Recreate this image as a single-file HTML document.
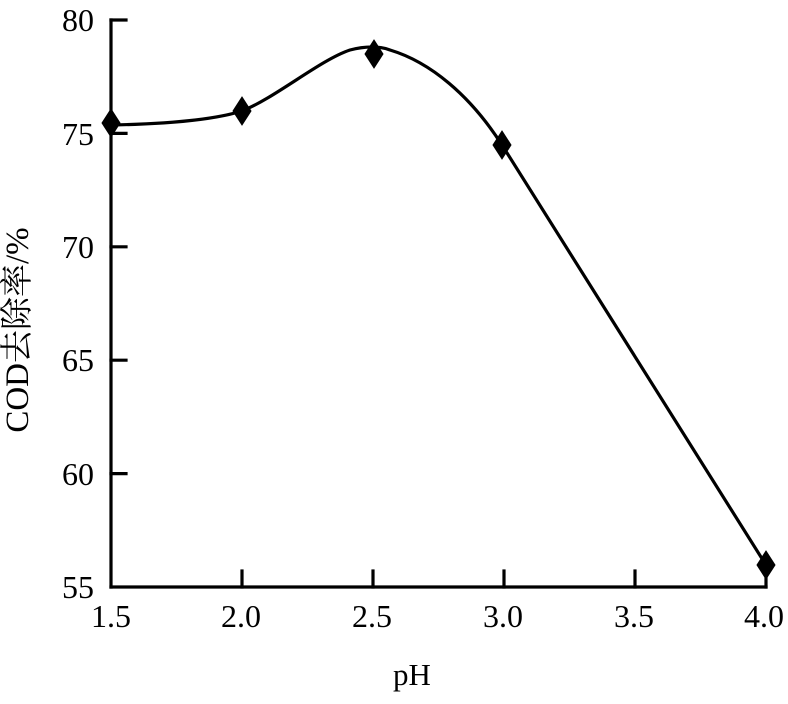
<!DOCTYPE html>
<html>
<head>
<meta charset="utf-8">
<style>
  html, body { margin: 0; padding: 0; background: #fff; }
  svg { display: block; }
  text { font-family: "Liberation Serif", "Noto Serif CJK SC", serif; fill: #000; }
</style>
</head>
<body>
<svg width="788" height="704" viewBox="0 0 788 704" xmlns="http://www.w3.org/2000/svg">
  <!-- axes -->
  <g stroke="#000" stroke-width="3.2" fill="none" stroke-linecap="square">
    <line x1="111" y1="20" x2="111" y2="587"/>
    <line x1="111" y1="587" x2="766" y2="587"/>
    <!-- y ticks -->
    <line x1="111" y1="20" x2="126" y2="20"/>
    <line x1="111" y1="133.4" x2="126" y2="133.4"/>
    <line x1="111" y1="246.8" x2="126" y2="246.8"/>
    <line x1="111" y1="360.2" x2="126" y2="360.2"/>
    <line x1="111" y1="473.6" x2="126" y2="473.6"/>
    <!-- x ticks -->
    <line x1="242" y1="587" x2="242" y2="571"/>
    <line x1="373" y1="587" x2="373" y2="571"/>
    <line x1="504" y1="587" x2="504" y2="571"/>
    <line x1="635" y1="587" x2="635" y2="571"/>
    <line x1="766" y1="587" x2="766" y2="571"/>
  </g>

  <!-- y tick labels -->
  <g font-size="32" text-anchor="end">
    <text x="94" y="31">80</text>
    <text x="94" y="145">75</text>
    <text x="94" y="258">70</text>
    <text x="94" y="371">65</text>
    <text x="94" y="485">60</text>
    <text x="94" y="598">55</text>
  </g>

  <!-- x tick labels -->
  <g font-size="32" text-anchor="middle">
    <text x="111" y="627">1.5</text>
    <text x="241" y="627">2.0</text>
    <text x="372" y="627">2.5</text>
    <text x="503" y="627">3.0</text>
    <text x="634" y="627">3.5</text>
    <text x="764" y="627">4.0</text>
  </g>

  <!-- axis titles -->
  <text x="412" y="685" font-size="31" text-anchor="middle">pH</text>
  <text transform="translate(28,330) rotate(-90)" font-size="33" text-anchor="middle">COD去除率/%</text>

  <!-- curve -->
  <path d="M111,125 C160,124 210,121 242,111 C275,98 320,60 350,50 C365,46 380,46 390,50 C430,62 470,95 502,145 L766,565"
        stroke="#000" stroke-width="3.2" fill="none" stroke-linejoin="round"/>

  <!-- markers -->
  <g fill="#000" stroke="#000" stroke-width="1">
    <polygon points="111,109 120,123 111,137 102,123"/>
    <polygon points="242,97 251,111 242,125 233,111"/>
    <polygon points="374,40 383,54 374,68 365,54"/>
    <polygon points="502,131 511,145 502,159 493,145"/>
    <polygon points="766,551 775,565 766,579 757,565"/>
  </g>
</svg>
</body>
</html>
